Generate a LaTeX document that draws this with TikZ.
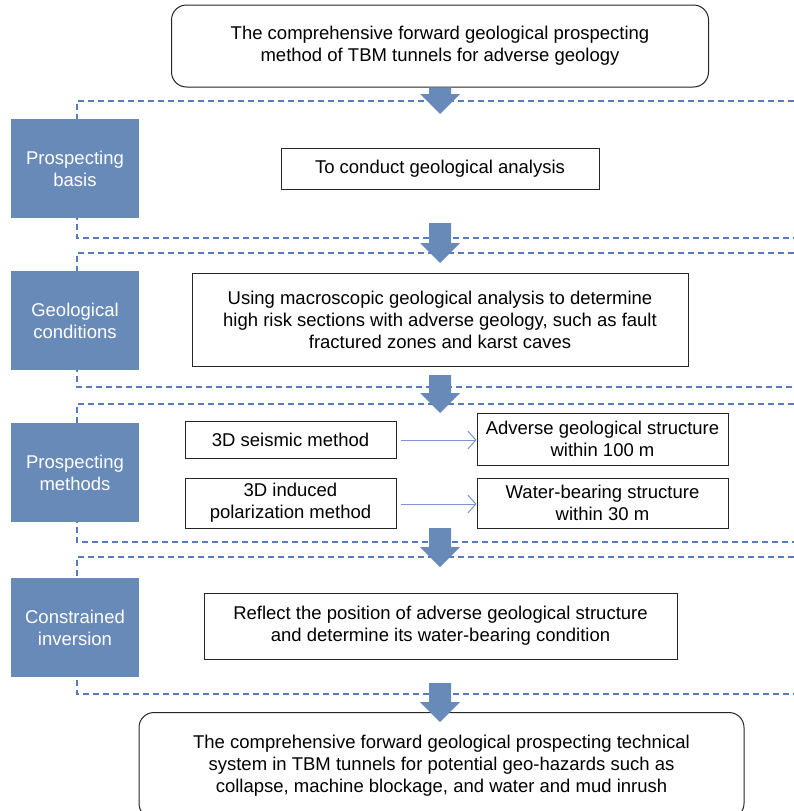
\documentclass[tikz,border=0pt]{standalone}
\usepackage{fontspec}
\setmainfont{Liberation Sans}
\usetikzlibrary{arrows.meta,calc}
\definecolor{blk}{RGB}{104,138,185}
\definecolor{dashc}{RGB}{88,122,190}
\definecolor{thin}{RGB}{120,152,205}
\newcommand\blkarrow[2]{%
  \fill[blk] let \p1=(#1), \p2=(#2) in
    (\x1-11pt,\y1) -- (\x1+11pt,\y1) -- (\x1+11pt,\y2+20pt) -- (\x1+20pt,\y2+20pt)
    -- (\x2,\y2) -- (\x1-20pt,\y2+20pt) -- (\x1-11pt,\y2+20pt) -- cycle;}
\begin{document}
\begin{tikzpicture}[x=1pt,y=-1pt,
  font=\fontsize{18.5}{22}\selectfont,
  box/.style={draw=black!85, line width=1pt, fill=white, align=center, inner sep=0pt},
  rbox/.style={box, rounded corners=15pt},
  side/.style={fill=blk, text=white, align=center, minimum width=128pt, minimum height=99pt, inner sep=0pt},
  sect/.style={draw=dashc, line width=1.3pt, dash pattern=on 6pt off 4pt},
  thinarrow/.style={draw=thin, line width=1pt, -{Straight Barb[length=8pt,width=18pt]}, shorten <=4pt}]
\useasboundingbox (0,0) rectangle (794,811);
% dashed sections
\draw[sect] (794,101) -- (77,101) -- (77,238) -- (794,238);
\draw[sect] (794,253) -- (77,253) -- (77,387) -- (794,387);
\draw[sect] (794,404) -- (77,404) -- (77,542) -- (794,542);
\draw[sect] (794,557) -- (77,557) -- (77,694) -- (794,694);
% top and bottom boxes
\node[rbox, minimum width=537pt, minimum height=82pt] (top) at (440,46)
  {The comprehensive forward geological prospecting\\method of TBM tunnels for adverse geology};
% arrow coordinates
\coordinate (t1) at (440,114);
\coordinate (s2) at (440,223); \coordinate (t2) at (440,263);
\coordinate (s3) at (440,375); \coordinate (t3) at (440,413);
\coordinate (s4) at (440,528); \coordinate (t4) at (440,567);
\coordinate (s5) at (440,683); \coordinate (t5) at (440,722);
\blkarrow{top.south}{t1}
% side labels
\node[side] (pb) at (75,168.5) {Prospecting\\basis};
\node[side] (gc) at (75,320.5) {Geological\\conditions};
\node[side] (pm) at (75,472.5) {Prospecting\\methods};
\node[side] (ci) at (75,627.5) {Constrained\\inversion};
% content boxes
\node[box, minimum width=318pt, minimum height=41pt] (ga) at (440,168.5) {To conduct geological analysis};
\node[box, minimum width=496pt, minimum height=93pt] (geo) at (440,319.5)
  {Using macroscopic geological analysis to determine\\high risk sections with adverse geology, such as fault\\fractured zones and karst caves};
\node[box, minimum width=211pt, minimum height=37pt] (seis) at (290.5,439.5) {3D seismic method};
\node[box, minimum width=251pt, minimum height=52pt] (adv) at (602.5,439) {Adverse geological structure\\within 100 m};
\node[box, minimum width=211pt, minimum height=50pt] (ip) at (290.5,503) {3D induced\\polarization method};
\node[box, minimum width=251pt, minimum height=50pt] (wb) at (602.5,503) {Water-bearing structure\\within 30 m};
\node[box, minimum width=473pt, minimum height=66pt] (ref) at (440.5,626)
  {Reflect the position of adverse geological structure\\and determine its water-bearing condition};
\node[rbox, minimum width=605pt, minimum height=106pt, anchor=north] (bot) at (441.5,712)
  {The comprehensive forward geological prospecting technical\\system in TBM tunnels for potential geo-hazards such as\\collapse, machine blockage, and water and mud inrush};
% thin arrows
\draw[thinarrow] (seis.east |- 0,440) -- (adv.west |- 0,440);
\draw[thinarrow] (ip.east |- 0,504) -- (wb.west |- 0,504);
% block arrows
\blkarrow{s2}{t2}
\blkarrow{s3}{t3}
\blkarrow{s4}{t4}
\blkarrow{s5}{t5}
\end{tikzpicture}
\end{document}
